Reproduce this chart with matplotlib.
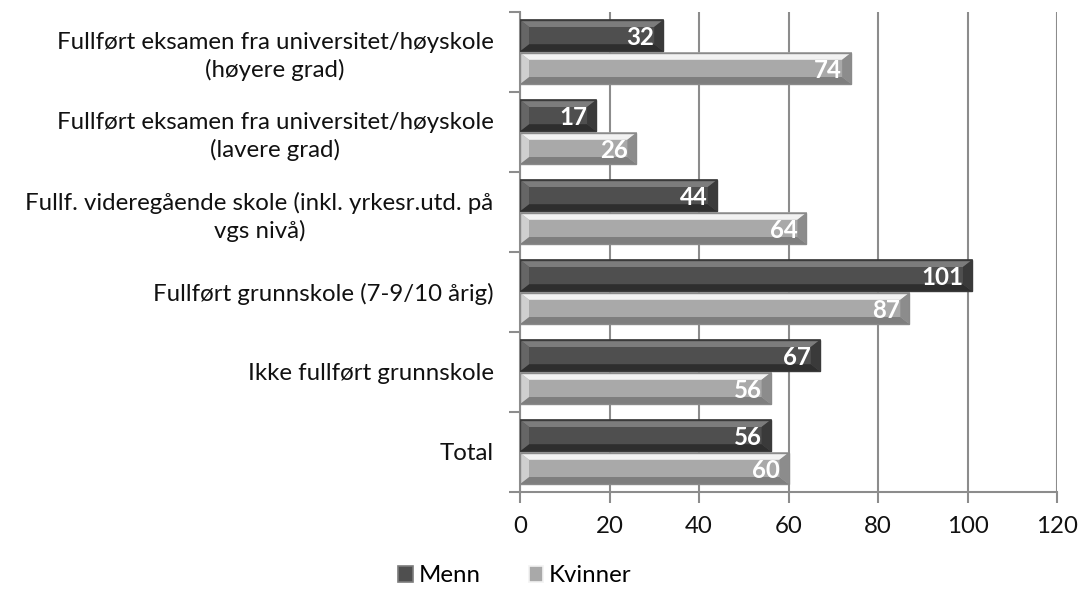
import matplotlib
matplotlib.use("Agg")
import matplotlib.pyplot as plt
from matplotlib.patches import Polygon, Patch
import numpy as np

plt.rcParams["font.family"] = ["Lato", "DejaVu Sans"]

categories = [
    "Total",
    "Ikke fullført grunnskole",
    "Fullført grunnskole (7-9/10 årig)",
    "Fullf. videregående skole (inkl. yrkesr.utd. på\nvgs nivå)",
    "Fullført eksamen fra universitet/høyskole\n(lavere grad)",
    "Fullført eksamen fra universitet/høyskole\n(høyere grad)",
]
menn = [56, 67, 101, 44, 17, 32]
kvinner = [60, 56, 87, 64, 26, 74]
xticks = [0, 20, 40, 60, 80, 100, 120]

DARK = dict(face="#4f4f4f", top="#7c7c7c", bottom="#2e2e2e", left="#666666", right="#3a3a3a", edge="#3a3a3a")
LIGHT = dict(face="#a9a9a9", top="#f2f2f2", bottom="#7e7e7e", left="#cfcfcf", right="#8c8c8c", edge="#8a8a8a")
GRIDC = "#8c8c8c"
FS = 17.3

fig = plt.figure(figsize=(10.79, 5.92), dpi=100)
ax = fig.add_axes([520 / 1079, 100 / 592, 537 / 1079, 480 / 592])
ax.set_xlim(0, 120)
ax.set_ylim(-0.5, len(categories) - 0.5)

# data units per pixel for the bevel size
px_x = 120 / 537
px_y = 6 / 480


def bevel_bar(y, w, h, st):
    x0, x1 = 0, w
    y0, y1 = y - h / 2, y + h / 2
    bx, by = 9 * px_x, 7 * px_y
    ax.add_patch(Polygon([(x0, y0), (x1, y0), (x1, y1), (x0, y1)], closed=True,
                         facecolor=st["face"], edgecolor=st["edge"], lw=1.2, zorder=3))
    ax.add_patch(Polygon([(x0, y1), (x1, y1), (x1 - bx, y1 - by), (x0 + bx, y1 - by)],
                         closed=True, facecolor=st["top"], lw=0, zorder=4))
    ax.add_patch(Polygon([(x0, y0), (x1, y0), (x1 - bx, y0 + by), (x0 + bx, y0 + by)],
                         closed=True, facecolor=st["bottom"], lw=0, zorder=4))
    ax.add_patch(Polygon([(x1, y0), (x1, y1), (x1 - bx, y1 - by), (x1 - bx, y0 + by)],
                         closed=True, facecolor=st["right"], lw=0, zorder=4))
    ax.add_patch(Polygon([(x0, y0), (x0, y1), (x0 + bx, y1 - by), (x0 + bx, y0 + by)],
                         closed=True, facecolor=st["left"], lw=0, zorder=4))
    ax.add_patch(Polygon([(x0, y0), (x1, y0), (x1, y1), (x0, y1)], closed=True,
                         facecolor="none", edgecolor=st["edge"], lw=1.0, zorder=5))


ypos = np.arange(len(categories))
h = 0.39
for i, (m, k) in enumerate(zip(menn, kvinner)):
    bevel_bar(ypos[i] + 0.205, m, h, DARK)
    bevel_bar(ypos[i] - 0.205, k, h, LIGHT)
    ax.text(m - 2.0, ypos[i] + 0.205, str(m), ha="right", va="center_baseline",
            color="white", fontsize=FS, fontweight="bold", zorder=6)
    ax.text(k - 2.0, ypos[i] - 0.205, str(k), ha="right", va="center_baseline",
            color="white", fontsize=FS, fontweight="bold", zorder=6)

ax.set_xticks(xticks)
ax.set_xticklabels([str(t) for t in xticks], fontsize=FS, color="#111111")
ax.set_yticks(ypos)
ax.set_yticklabels(categories, fontsize=FS, color="#111111", ha="right",
                   multialignment="center", linespacing=1.3)
ax.tick_params(axis="y", length=0, pad=19)
ax.set_yticks(np.arange(-0.5, len(categories)), minor=True)
ax.tick_params(axis="y", which="minor", length=8, width=1.5, color=GRIDC, direction="out")
ax.tick_params(axis="x", length=8, width=1.5, color=GRIDC, direction="out", pad=9)

ax.grid(axis="x", color=GRIDC, lw=1.5, zorder=0)
ax.set_axisbelow(True)
for s in ("top", "right"):
    ax.spines[s].set_visible(False)
for s in ("left", "bottom"):
    ax.spines[s].set_color(GRIDC)
    ax.spines[s].set_linewidth(1.5)

handles = [Patch(facecolor=DARK["face"], edgecolor=DARK["top"], lw=1.2, label="Menn"),
           Patch(facecolor=LIGHT["face"], edgecolor=LIGHT["top"], lw=1.2, label="Kvinner")]
fig.legend(handles=handles, loc="center", bbox_to_anchor=(515 / 1079, 1 - 576 / 592), ncol=2,
           frameon=False, fontsize=FS, handlelength=0.6, handleheight=0.6,
           handletextpad=0.25, columnspacing=2.0)

fig.savefig("out.png", dpi=100)
